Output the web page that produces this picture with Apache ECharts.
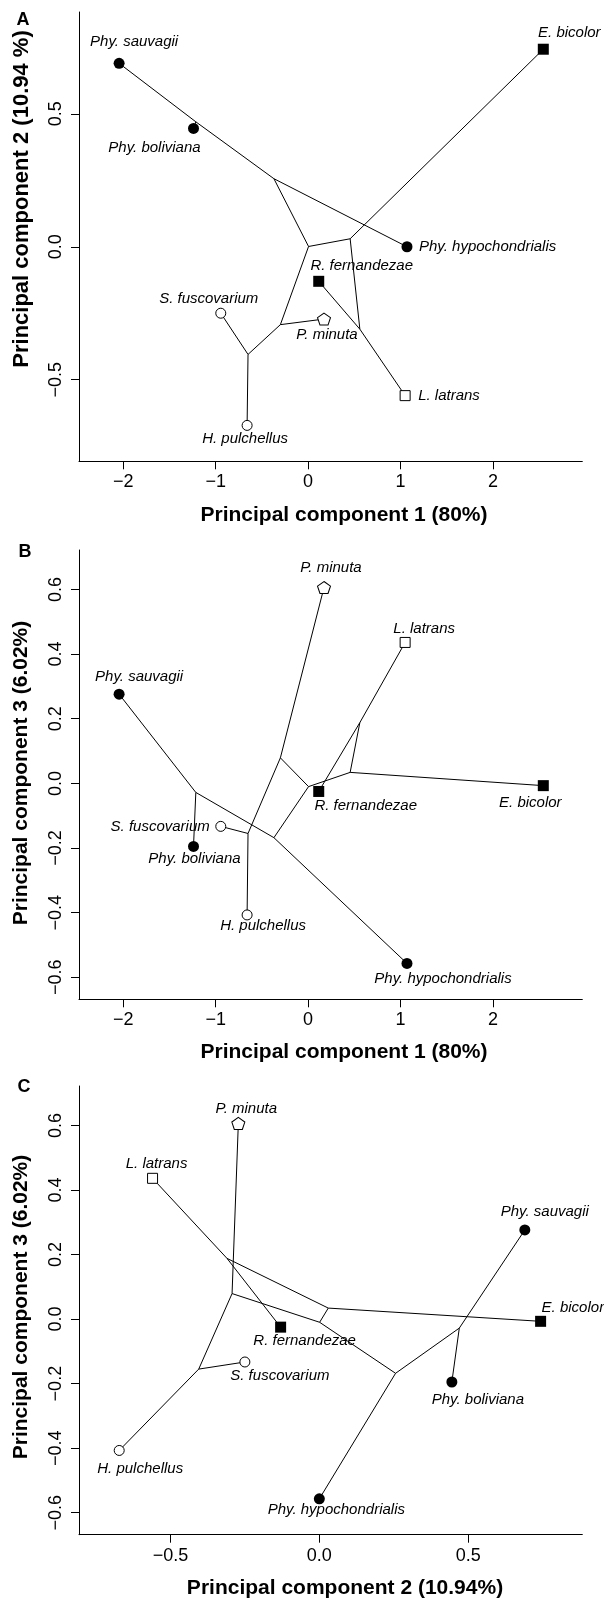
<!DOCTYPE html>
<html><head><meta charset="utf-8">
<script src="https://cdn.jsdelivr.net/npm/echarts@6/dist/echarts.min.js"></script>
<style>html,body{margin:0;padding:0;background:#fff}#c{width:604px;height:1600px}</style>
</head><body><div id="c"></div>
<script>
// ---- data ----
const species = ['Phy. sauvagii','Phy. boliviana','Phy. hypochondrialis','E. bicolor','R. fernandezae','S. fuscovarium','P. minuta','L. latrans','H. pulchellus'];
const pc1 = [-2.045,-1.24,1.07,2.545,0.115,-0.945,0.172,1.05,-0.66];
const pc2 = [0.69,0.445,0.0,0.743,-0.13,-0.25,-0.272,-0.56,-0.672];
const pc3 = [0.276,-0.195,-0.557,-0.007,-0.025,-0.133,0.606,0.436,-0.407];
// internal (ancestral) nodes of the tree
const nodePc1 = [-1.215,-0.37,0.005,0.455,-0.30,-0.65,0.56];
const nodePc2 = [0.47,0.256,0.001,0.03,-0.293,-0.405,-0.31];
const nodePc3 = [-0.028,-0.168,-0.010,0.034,0.079,-0.155,0.188];
// edges: indices 0-8 tips, 9-15 internal nodes
const edges = [[0,9],[1,9],[9,10],[10,2],[10,11],[11,12],[11,13],[12,3],[12,15],[15,4],[15,7],[13,6],[13,14],[14,5],[14,8]];
const ticksPC1 = [-2,-1,0,1,2];
const ticksPC2 = [-0.5,0,0.5];
const ticksPC3 = [-0.6,-0.4,-0.2,0,0.2,0.4,0.6];
const titlePC1 = 'Principal component 1 (80%)';
const titlePC2A = 'Principal component 2 (10.94 %)';
const titlePC3 = 'Principal component 3 (6.02%)';
const titlePC2C = 'Principal component 2 (10.94%)';
const panelLetters = ['A','B','C'];

// ---- layout / style ----
const FONT = '"Liberation Sans", Arial, Helvetica, sans-serif';
const vars = {
  pc1: {tips: pc1, nodes: nodePc1, lim: [-2.479, 2.967], ticks: ticksPC1, dec: 0},
  pc2: {tips: pc2, nodes: nodePc2, lim: [-0.807, 0.883], ticks: ticksPC2, dec: 1},
  pc3: {tips: pc3, nodes: nodePc3, lim: [-0.668, 0.722], ticks: ticksPC3, dec: 1}
};
const markerOf = {
  'Phy. sauvagii':'dot','Phy. boliviana':'dot','Phy. hypochondrialis':'dot',
  'E. bicolor':'fsq','R. fernandezae':'fsq',
  'S. fuscovarium':'ocirc','H. pulchellus':'ocirc',
  'P. minuta':'pent','L. latrans':'osq'
};
const PENT = 'path://M0,-10L9.511,-3.09L5.878,8.09L-5.878,8.09L-9.511,-3.09Z';
const markerDefs = {
  dot:   {symbol:'circle', size:11, fill:'#000', border:0},
  fsq:   {symbol:'rect', size:11, fill:'#000', border:0},
  ocirc: {symbol:'circle', size:10, fill:'#fff', border:1},
  osq:   {symbol:'rect', size:10, fill:'#fff', border:1},
  pent:  {symbol:PENT, size:[13,12], fill:'#fff', border:1}
};
const panels = [
  {xv:'pc1', yv:'pc2', top:12, height:449.3, xTitle:titlePC1, yTitle:titlePC2A,
   xTitlePos:[344,515], yTitlePos:[22,199], letterPos:[23,20], yFont:22,
   lab:{'Phy. sauvagii':[15,-21,'center'],'Phy. boliviana':[-39,19,'center'],'E. bicolor':[26,-16,'center'],
        'Phy. hypochondrialis':[12,0,'left'],'R. fernandezae':[43,-15,'center'],'S. fuscovarium':[-12,-14,'center'],
        'P. minuta':[3,16,'center'],'L. latrans':[13,0,'left'],'H. pulchellus':[-2,13,'center']}},
  {xv:'pc1', yv:'pc3', top:550, height:449.3, xTitle:titlePC1, yTitle:titlePC3,
   xTitlePos:[344,1052], yTitlePos:[21,773], letterPos:[25,552], yFont:21,
   lab:{'P. minuta':[7,-20,'center'],'L. latrans':[19,-14,'center'],'Phy. sauvagii':[20,-17,'center'],
        'E. bicolor':[-13,17,'center'],'R. fernandezae':[47,14,'center'],'S. fuscovarium':[-11,0,'right'],
        'Phy. boliviana':[1,12,'center'],'H. pulchellus':[16,11,'center'],'Phy. hypochondrialis':[36,15,'center']}},
  {xv:'pc2', yv:'pc3', top:1086, height:448.7, xTitle:titlePC2C, yTitle:titlePC3,
   xTitlePos:[345,1588], yTitlePos:[21,1307], letterPos:[24,1087], yFont:21,
   lab:{'P. minuta':[8,-15,'center'],'L. latrans':[4,-14,'center'],'Phy. sauvagii':[20,-18,'center'],
        'E. bicolor':[1,-13,'left'],'R. fernandezae':[24,14,'center'],'S. fuscovarium':[35,14,'center'],
        'Phy. boliviana':[26,18,'center'],'H. pulchellus':[21,18,'center'],'Phy. hypochondrialis':[17,11,'center']}}
];

function fmt(dec){
  return function(v){ const s = Math.abs(v).toFixed(dec); return (v < -1e-9 ? '\u2212' : '') + s; };
}
function axisCfg(i, key, isY){
  const V = vars[key];
  return {
    gridIndex:i, type:'value', min:V.lim[0], max:V.lim[1],
    axisLine:{show:true, onZero:false, lineStyle:{color:'#000', width:1}},
    axisTick:{show:true, length:8, customValues:V.ticks, lineStyle:{color:'#000', width:1}},
    axisLabel:{customValues:V.ticks, formatter:fmt(V.dec), fontSize:18, color:'#000', fontFamily:FONT,
               margin: isY ? 14 : 12, rotate: isY ? 90 : 0},
    splitLine:{show:false}
  };
}
const coord = (key, idx) => idx < 9 ? vars[key].tips[idx] : vars[key].nodes[idx-9];

const grids = [], xAxes = [], yAxes = [], series = [], graphic = [];
panels.forEach((p, i) => {
  grids.push({left:79, right:21.7, top:p.top, height:p.height});
  xAxes.push(axisCfg(i, p.xv, false));
  yAxes.push(axisCfg(i, p.yv, true));
  series.push({
    type:'lines', coordinateSystem:'cartesian2d', xAxisIndex:i, yAxisIndex:i, silent:true, z:1,
    lineStyle:{color:'#000', width:1, opacity:1, curveness:0},
    data: edges.map(e => ({coords:[[coord(p.xv,e[0]), coord(p.yv,e[0])],[coord(p.xv,e[1]), coord(p.yv,e[1])]]}))
  });
  series.push({
    type:'scatter', xAxisIndex:i, yAxisIndex:i, z:3, clip:false, silent:true,
    data: species.map((name, k) => {
      const m = markerDefs[markerOf[name]];
      const l = p.lab[name];
      return {
        name, value:[vars[p.xv].tips[k], vars[p.yv].tips[k]],
        symbol:m.symbol, symbolSize:m.size,
        itemStyle:{color:m.fill, borderColor:'#000', borderWidth:m.border, opacity:1},
        label:{show:true, formatter:name, position:'inside', offset:[l[0], l[1]], align:l[2], verticalAlign:'middle',
               fontStyle:'italic', fontSize:15, fontFamily:FONT, color:'#000'}
      };
    })
  });
  graphic.push({type:'text', x:p.xTitlePos[0], y:p.xTitlePos[1],
    style:{text:p.xTitle, fontSize:21, fontWeight:'bold', fontFamily:FONT, fill:'#000', align:'center', verticalAlign:'middle'}});
  graphic.push({type:'text', x:p.yTitlePos[0], y:p.yTitlePos[1], rotation:Math.PI/2,
    style:{text:p.yTitle, fontSize:p.yFont, fontWeight:'bold', fontFamily:FONT, fill:'#000', align:'center', verticalAlign:'middle'}});
  graphic.push({type:'text', x:p.letterPos[0], y:p.letterPos[1],
    style:{text:panelLetters[i], fontSize:18, fontWeight:'bold', fontFamily:FONT, fill:'#000', align:'center', verticalAlign:'middle'}});
});

const chart = echarts.init(document.getElementById('c'), null, {renderer:'canvas'});
chart.setOption({
  animation:false, backgroundColor:'#fff',
  grid:grids, xAxis:xAxes, yAxis:yAxes, series, graphic
});
</script></body></html>
